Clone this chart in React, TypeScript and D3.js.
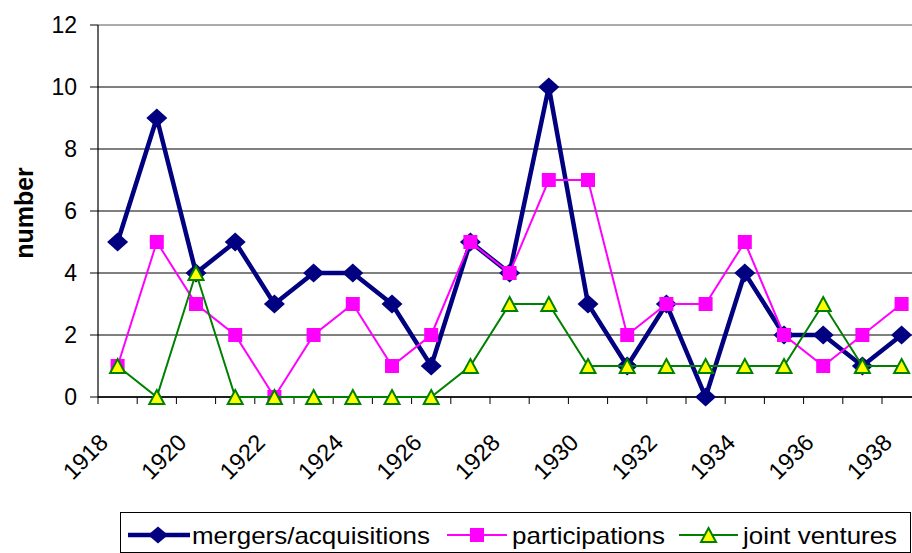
import * as d3 from 'd3'

const years = d3.range(1918, 1939).map(String)
const mergers = [5, 9, 4, 5, 3, 4, 4, 3, 1, 5, 4, 10, 3, 1, 3, 0, 4, 2, 2, 1, 2]
const participations = [1, 5, 3, 2, 0, 2, 3, 1, 2, 5, 4, 7, 7, 2, 3, 3, 5, 2, 1, 2, 3]
const jointVentures = [1, 0, 4, 0, 0, 0, 0, 0, 0, 1, 3, 3, 1, 1, 1, 1, 1, 1, 3, 1, 1]
const yTicks = [0, 2, 4, 6, 8, 10, 12]

const W = 912
const H = 553
const left = 98
const top = 25
const bottom = 397
const bandW = 39.2

const font = 'Arial, "Liberation Sans", sans-serif'

// marker shapes
const diamond = (px, py, rx = 10.5, ry = 9.5) =>
  `M${px},${py - ry}L${px + rx},${py}L${px},${py + ry}L${px - rx},${py}Z`
const tri = (px, py) => {
  const r = 7.5
  return `M${px},${py - 7}L${px + r},${py + 7}L${px - r},${py + 7}Z`
}

export default function App() {
  const x = d3
    .scaleBand()
    .domain(years)
    .range([left, left + bandW * years.length])
  const y = d3.scaleLinear().domain([0, 12]).range([bottom, top])
  const cx = (i) => x(years[i]) + x.bandwidth() / 2

  const line = d3
    .line()
    .x((d, i) => cx(i))
    .y((d) => y(d))

  return (
    <svg
      width={W}
      height={H}
      style={{ position: 'absolute', left: 0, top: 0, background: '#fff' }}
    >
      {/* grid + y axis */}
      {yTicks.map((t) => (
        <g key={t}>
          <line
            x1={left}
            x2={W}
            y1={y(t)}
            y2={y(t)}
            stroke={t === 12 ? '#909090' : '#000'}
            strokeWidth={t === 12 ? 1.5 : 1}
          />
          <line x1={left - 8} x2={left} y1={y(t)} y2={y(t)} stroke="#000" />
          <text
            x={77}
            y={y(t)}
            dy="0.36em"
            textAnchor="end"
            fontFamily={font}
            fontSize={23}
          >
            {t}
          </text>
        </g>
      ))}
      <line x1={left} x2={left} y1={top} y2={bottom} stroke="#000" strokeWidth={1.2} />
      <line x1={left} x2={W} y1={bottom} y2={bottom} stroke="#000" strokeWidth={1.5} />
      {years.map((yr) => (
        <line
          key={yr}
          x1={x(yr)}
          x2={x(yr)}
          y1={bottom}
          y2={bottom + 7}
          stroke="#000"
        />
      ))}
      {years.map((yr, i) =>
        i % 2 === 0 ? (
          <text
            key={yr}
            transform={`translate(${cx(i) - 8},${bottom + 47}) rotate(-45)`}
            textAnchor="end"
            fontFamily={font}
            fontSize={23.5}
          >
            {yr}
          </text>
        ) : null
      )}
      <text
        transform={`translate(33,213) rotate(-90)`}
        textAnchor="middle"
        fontFamily={font}
        fontWeight="bold"
        fontSize={25}
      >
        number
      </text>

      {/* series */}
      <path d={line(mergers)} fill="none" stroke="#000080" strokeWidth={4.5} />
      {mergers.map((v, i) => (
        <path key={i} d={diamond(cx(i), y(v))} fill="#000080" />
      ))}
      <path d={line(participations)} fill="none" stroke="#ff00ff" strokeWidth={2} />
      {participations.map((v, i) => (
        <rect
          key={i}
          x={cx(i) - 7}
          y={y(v) - 7}
          width={14}
          height={14}
          fill="#ff00ff"
        />
      ))}
      <path d={line(jointVentures)} fill="none" stroke="#008000" strokeWidth={2} />
      {jointVentures.map((v, i) => (
        <path
          key={i}
          d={tri(cx(i), y(v))}
          fill="#ffff00"
          stroke="#008000"
          strokeWidth={2}
        />
      ))}

      {/* legend */}
      <rect x={120.5} y={512.5} width={790} height={40} fill="#fff" stroke="#000" strokeWidth={1} />
      <g fontFamily={font} fontSize={24}>
        <line x1={128} x2={190} y1={535} y2={535} stroke="#000080" strokeWidth={4.5} />
        <path d={diamond(158, 535, 10, 8.5)} fill="#000080" />
        <text x={192} y={535} dy="0.36em" textLength={238} lengthAdjust="spacingAndGlyphs">
          mergers/acquisitions
        </text>
        <line x1={447} x2={507} y1={535} y2={535} stroke="#ff00ff" strokeWidth={2} />
        <rect x={470} y={528} width={14} height={14} fill="#ff00ff" />
        <text x={512} y={535} dy="0.36em" textLength={153} lengthAdjust="spacingAndGlyphs">
          participations
        </text>
        <line x1={679} x2={738} y1={535} y2={535} stroke="#008000" strokeWidth={2} />
        <path d={tri(708.5, 535)} fill="#ffff00" stroke="#008000" strokeWidth={2} />
        <text x={743} y={535} dy="0.36em" textLength={154} lengthAdjust="spacingAndGlyphs">
          joint ventures
        </text>
      </g>
    </svg>
  )
}
